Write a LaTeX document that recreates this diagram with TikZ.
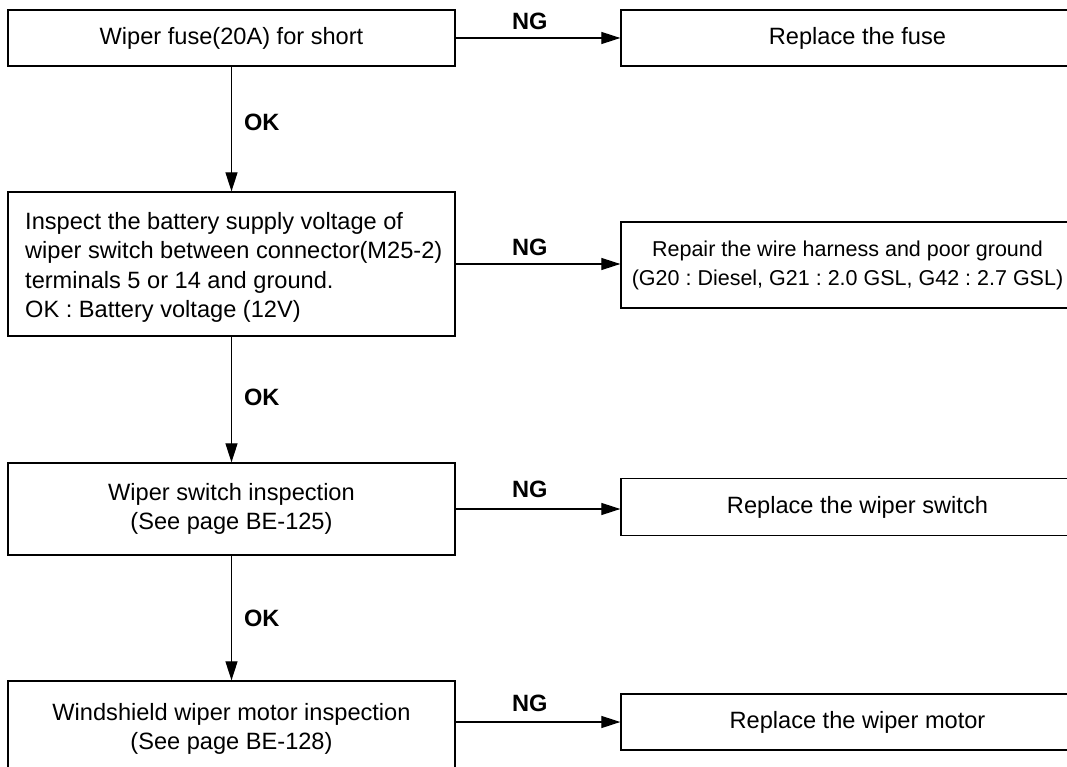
\documentclass[tikz,border=0pt]{standalone}
\usepackage{fontspec}
\setmainfont{Liberation Sans}
\usetikzlibrary{arrows.meta}
\frenchspacing
\begin{document}
\begin{tikzpicture}[x=1pt,y=-1pt,
  box/.style={draw, line width=1.3pt, rectangle, inner sep=0pt, align=center,
    font=\fontsize{23.6}{29.5}\selectfont},
  smallbox/.style={box, font=\fontsize{21.5}{29}\selectfont},
  arr/.style={line width=1.2pt, -{Triangle[length=19pt,width=12pt]}},
  lab/.style={font=\fontsize{23.6}{28}\selectfont\bfseries, inner sep=0pt}]
\useasboundingbox (0,0) rectangle (1067,767);
\clip (0,0) rectangle (1067,767);
% left column
\node[box, minimum width=447pt, minimum height=56pt] (b1) at (231.5,38) {Wiper fuse(20A) for short};
\node[box, minimum width=447pt, minimum height=144pt] (b2) at (231.5,264) {};
\node[anchor=west, align=left, inner sep=0pt, font=\fontsize{23.6}{29.5}\selectfont] (t2) at (25,267.4)
  {Inspect the battery supply voltage of\\wiper switch between connector(M25-2)\\terminals 5 or 14 and ground.\\OK : Battery voltage (12V)};
\node[box, minimum width=447pt, minimum height=92pt] (b3) at (231.5,509) {Wiper switch inspection\\(See page BE-125)};
\node[box, minimum width=447pt, minimum height=96pt] (b4) at (231.5,729) {Windshield wiper motor inspection\\(See page BE-128)};
% right column
\node[box, minimum width=473pt, minimum height=56pt] (r1) at (857.5,38) {Replace the fuse};
\node[smallbox, minimum width=453pt, minimum height=86pt] (r2) at (847.5,265) {Repair the wire harness and poor ground\\(G20 : Diesel, G21 : 2.0 GSL, G42 : 2.7 GSL)};
\node[box, minimum width=473pt, minimum height=57pt] (r3) at (857.5,507) {Replace the wiper switch};
\node[box, minimum width=473pt, minimum height=56pt] (r4) at (857.5,722) {Replace the wiper motor};
% NG connectors
\draw[arr] (b1.east) -- node[lab, pos=0.45, above=8pt] {NG} (b1.east -| r1.west);
\draw[arr] (b2.east) -- node[lab, pos=0.45, above=8pt] {NG} (b2.east -| r2.west);
\draw[arr] (b3.east) -- node[lab, pos=0.45, above=11pt] {NG} (b3.east -| r3.west);
\draw[arr] (r4.west -| b4.east) -- node[lab, pos=0.45, above=10pt] {NG} (r4.west);
% OK connectors
\draw[arr] (b1.south) -- node[lab, right=12pt, pos=0.45] {OK} (b2.north);
\draw[arr] (b2.south) -- node[lab, right=12pt, pos=0.48] {OK} (b3.north);
\draw[arr] (b3.south) -- node[lab, right=12pt, pos=0.5] {OK} (b4.north);
\end{tikzpicture}
\end{document}
